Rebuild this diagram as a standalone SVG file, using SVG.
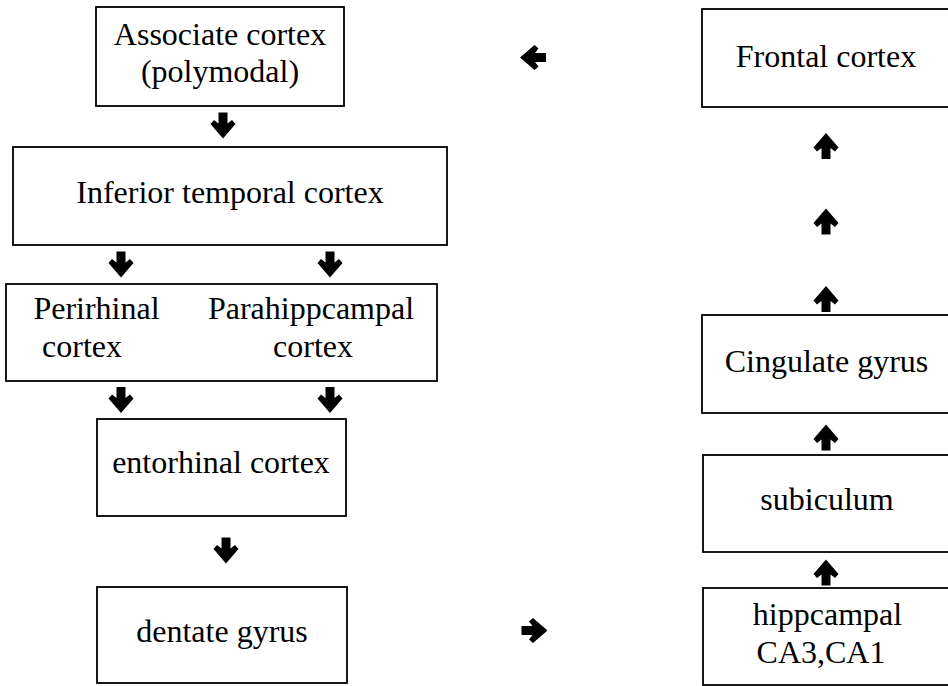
<svg xmlns="http://www.w3.org/2000/svg" xmlns:xlink="http://www.w3.org/1999/xlink" width="948" height="686" viewBox="0 0 948 686">
<style>
.box{fill:#fff;stroke:#000;stroke-width:1.8}
.t{font-family:"Liberation Serif","Times New Roman",serif;font-size:32px;fill:#000;text-anchor:middle}
.arr{fill:#000}
</style>
<defs>
<path id="ad" d="M -4.5 -13 H 4.5 V -2 L 9 -5.5 L 12.5 -1.5 L 0 13 L -12.5 -1.5 L -9 -5.5 L -4.5 -2 Z"/>
</defs>
<rect width="948" height="686" fill="#fff"/>
<g id="associate"><rect class="box" x="96" y="7" width="248" height="99"/><text class="t" x="220" y="45">Associate cortex</text><text class="t" x="220" y="82">(polymodal)</text></g>
<g id="inferior"><rect class="box" x="13" y="147" width="434" height="98"/><text class="t" x="230" y="203">Inferior temporal cortex</text></g>
<g id="perirhinal"><rect class="box" x="6" y="284" width="431" height="97"/><text class="t" x="96.5" y="319">Perirhinal</text><text class="t" x="82" y="357">cortex</text><text class="t" x="311" y="319">Parahippcampal</text><text class="t" x="313" y="357">cortex</text></g>
<g id="entorhinal"><rect class="box" x="97" y="419" width="249" height="97"/><text class="t" x="221" y="473">entorhinal cortex</text></g>
<g id="dentate"><rect class="box" x="97" y="587" width="250" height="96"/><text class="t" x="222" y="642">dentate gyrus</text></g>
<g id="frontal"><rect class="box" x="702" y="9" width="260" height="98"/><text class="t" x="826" y="67">Frontal cortex</text></g>
<g id="cingulate"><rect class="box" x="702" y="315" width="260" height="98"/><text class="t" x="826.5" y="372">Cingulate gyrus</text></g>
<g id="subiculum"><rect class="box" x="703" y="455" width="260" height="97"/><text class="t" x="827" y="510">subiculum</text></g>
<g id="hippcampal"><rect class="box" x="703" y="588" width="260" height="97"/><text class="t" x="827.5" y="625">hippcampal</text><text class="t" x="821" y="663">CA3,CA1</text></g>
<g id="connectors" class="arr">
<use href="#ad" transform="translate(223,125.5)"/>
<use href="#ad" transform="translate(121,264.5)"/>
<use href="#ad" transform="translate(330,264.5)"/>
<use href="#ad" transform="translate(121,400)"/>
<use href="#ad" transform="translate(330,400)"/>
<use href="#ad" transform="translate(226,550.5)"/>
<use href="#ad" transform="translate(533,57.5) rotate(90)"/>
<use href="#ad" transform="translate(534.5,630.5) rotate(-90)"/>
<use href="#ad" transform="translate(826,146) rotate(180)"/>
<use href="#ad" transform="translate(826,221.5) rotate(180)"/>
<use href="#ad" transform="translate(826,299) rotate(180)"/>
<use href="#ad" transform="translate(826,437.5) rotate(180)"/>
<use href="#ad" transform="translate(826,572.5) rotate(180)"/>
</g>
</svg>
